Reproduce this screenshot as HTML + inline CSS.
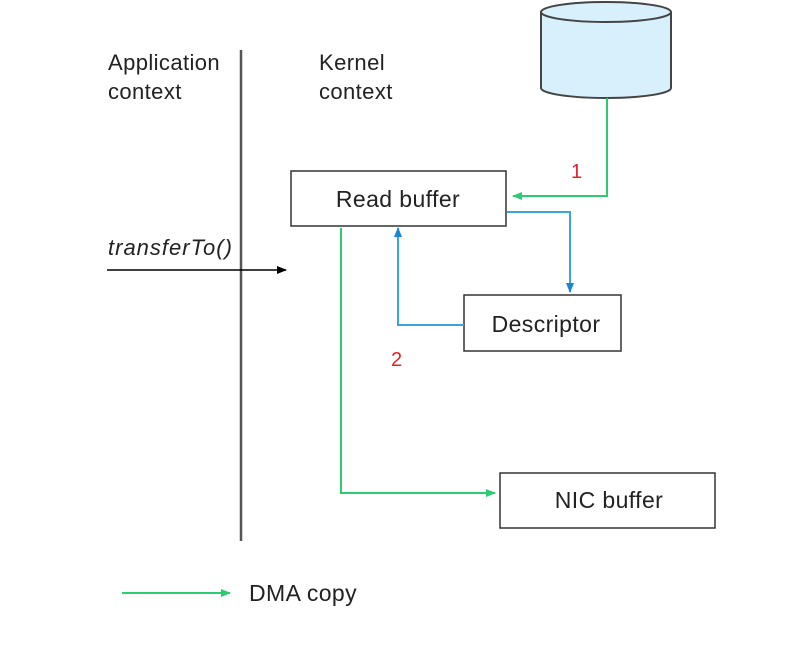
<!DOCTYPE html>
<html><head><style>
body{margin:0;background:#fff;}
svg{display:block;font-family:"Liberation Sans",Arial,sans-serif;}
.t{font-size:23px;letter-spacing:0.4px;fill:#222;}
</style></head><body>
<svg width="808" height="655" viewBox="0 0 808 655">
<defs>
<marker id="g" markerWidth="10" markerHeight="8" refX="9" refY="4" orient="auto" markerUnits="userSpaceOnUse"><path d="M0,0 L10,4 L0,8 Z" fill="#2ecc71"/></marker>
<marker id="b" markerWidth="10" markerHeight="8" refX="9" refY="4" orient="auto" markerUnits="userSpaceOnUse"><path d="M0,0 L10,4 L0,8 Z" fill="#1a86d0"/></marker>
<marker id="k" markerWidth="10" markerHeight="8" refX="9" refY="4" orient="auto" markerUnits="userSpaceOnUse"><path d="M0,0 L10,4 L0,8 Z" fill="#000"/></marker>
</defs>
<text x="108" y="70" class="t" style="font-size:22px">Application</text>
<text x="108" y="99" class="t" style="font-size:22px">context</text>
<text x="319" y="70" class="t" style="font-size:22px">Kernel</text>
<text x="319" y="99" class="t" style="font-size:22px">context</text>
<line x1="241" y1="50" x2="241" y2="541" stroke="#555" stroke-width="2.5"/>
<text x="108" y="255" class="t" style="font-size:22px;letter-spacing:1px" font-style="italic">transferTo()</text>
<line x1="107" y1="270" x2="286" y2="270" stroke="#000" stroke-width="1.5" marker-end="url(#k)"/>
<path d="M541,12 L541,88 A65,10 0 0 0 671,88 L671,12" fill="#d8f0fb" stroke="#444" stroke-width="2"/>
<ellipse cx="606" cy="12" rx="65" ry="10" fill="#d8f0fb" stroke="#444" stroke-width="2"/>
<rect x="291" y="171" width="215" height="55" fill="#fff" stroke="#333" stroke-width="1.5"/>
<text x="398" y="207" class="t" text-anchor="middle">Read buffer</text>
<rect x="464" y="295" width="157" height="56" fill="#fff" stroke="#333" stroke-width="1.5"/>
<text x="546" y="332" class="t" text-anchor="middle">Descriptor</text>
<rect x="500" y="473" width="215" height="55" fill="#fff" stroke="#333" stroke-width="1.5"/>
<text x="609" y="508" class="t" text-anchor="middle">NIC buffer</text>
<polyline points="607,98 607,196 513,196" fill="none" stroke="#2ecc71" stroke-width="2" marker-end="url(#g)"/>
<text x="571" y="178" font-size="20" fill="#e8202a">1</text>
<polyline points="507,212 570,212 570,292" fill="none" stroke="#3aa4e0" stroke-width="2" marker-end="url(#b)"/>
<polyline points="464,325 398,325 398,228" fill="none" stroke="#3aa4e0" stroke-width="2" marker-end="url(#b)"/>
<text x="391" y="366" font-size="20" fill="#e8202a">2</text>
<polyline points="341,228 341,493 495,493" fill="none" stroke="#2ecc71" stroke-width="2" marker-end="url(#g)"/>
<line x1="122" y1="593" x2="230" y2="593" stroke="#2ecc71" stroke-width="2" marker-end="url(#g)"/>
<text x="249" y="601" class="t">DMA copy</text>
</svg>
</body></html>
